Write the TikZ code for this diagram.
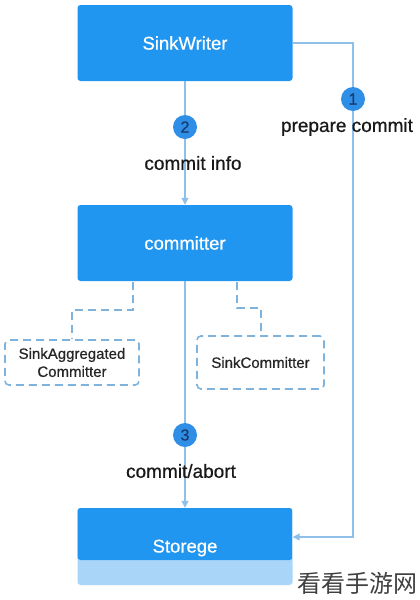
\documentclass[tikz,border=0pt]{standalone}
\usepackage{fontspec}
\setmainfont{Liberation Sans}
\newfontfamily\med[FakeBold=0.6]{Liberation Sans}
\newfontfamily\cjk{Noto Sans CJK SC}
\usetikzlibrary{arrows.meta}
\definecolor{boxblue}{HTML}{2196F0}
\definecolor{lightblue}{HTML}{A8D5F8}
\definecolor{linecol}{HTML}{8FC0EA}
\definecolor{dashcol}{HTML}{7DB3DC}
\definecolor{circblue}{HTML}{2F8EE6}
\definecolor{numcol}{HTML}{173A6E}
\tikzset{
  box/.style={fill=boxblue, rounded corners=3pt, minimum width=215pt, minimum height=76pt, inner sep=0pt},
  boxtext/.style={text=white, font=\med\fontsize{18.5}{21}\selectfont},
  dbox/.style={draw=dashcol, line width=1.6pt, dash pattern=on 8pt off 5pt, rounded corners=4pt, fill=white, inner sep=0pt, align=center, font=\med\fontsize{15}{18}\selectfont, text=black!85},
  conn/.style={draw=linecol, line width=1.3pt},
  dconn/.style={draw=dashcol, line width=1.6pt, dash pattern=on 8pt off 5pt},
  arr/.style={-{Triangle[length=7pt,width=7pt]}},
  numc/.style={circle, fill=circblue, minimum size=24pt, inner sep=0pt, text=numcol, font=\med\fontsize{16}{18}\selectfont},
  lbl/.style={font=\med\fontsize{19}{22}\selectfont, text=black!90, inner sep=1pt}
}
\begin{document}
\begin{tikzpicture}[x=1pt,y=-1pt]
\useasboundingbox (0,0) rectangle (420,600);
% boxes
\node[box] (sw) at (185,43) {};
\node[boxtext] (swt) at (185,43) {SinkWriter};
\node[box] (cm) at (185,243) {};
\node[boxtext] (cmt) at (185,243) {committer};
\node[box, minimum height=77pt, fill=lightblue,
  path picture={\fill[boxblue] (path picture bounding box.north west) rectangle ([yshift=25pt]path picture bounding box.south east);}] (sto) at (185,546.5) {};
\node[boxtext] (stot) at (185,548) {Storege};
% dashed boxes
\node[dbox, minimum width=134pt, minimum height=45pt] (sa) at (72,362.5) {SinkAggregated\\Committer};
\node[dbox, minimum width=127pt, minimum height=53pt] (sc) at (260.5,362.5) {SinkCommitter};
% coordinates
\coordinate (r1) at (353,43);
\coordinate (r2) at (353,537);
\coordinate (dl0) at (133,282);
\coordinate (dl1) at (133,310);
\coordinate (dl2) at (72,310);
\coordinate (dr0) at (237,282);
\coordinate (dr1) at (237,308);
\coordinate (dr2) at (261,308);
% connectors
\draw[conn, arr] (sw.south) -- (cm.north);
\draw[conn, arr] (cm.south) -- (sto.north);
\draw[conn, arr] (sw.east) -- (r1) -- (r2) -- (r2 -| sto.east);
\draw[dconn] (dl0) -- (dl1) -- (dl2) -- (sa.north);
\draw[dconn] (dr0) -- (dr1) -- (dr2) -- (dr2 |- sc.north);
% numbered circles
\node[numc] (n1) at (353,99) {1};
\node[numc] (n2) at (185,127) {2};
\node[numc] (n3) at (185,435) {3};
% labels
\node[lbl] (l1) at (347,127) {prepare commit};
\node[lbl] (l2) at (193,163) {commit info};
\node[lbl] (l3) at (181,471) {commit/abort};
% watermark
\node[font=\cjk\fontsize{24}{26}\selectfont, text=black!75, inner sep=0pt] (wm) at (357,583) {看看手游网};
\end{tikzpicture}
\end{document}
